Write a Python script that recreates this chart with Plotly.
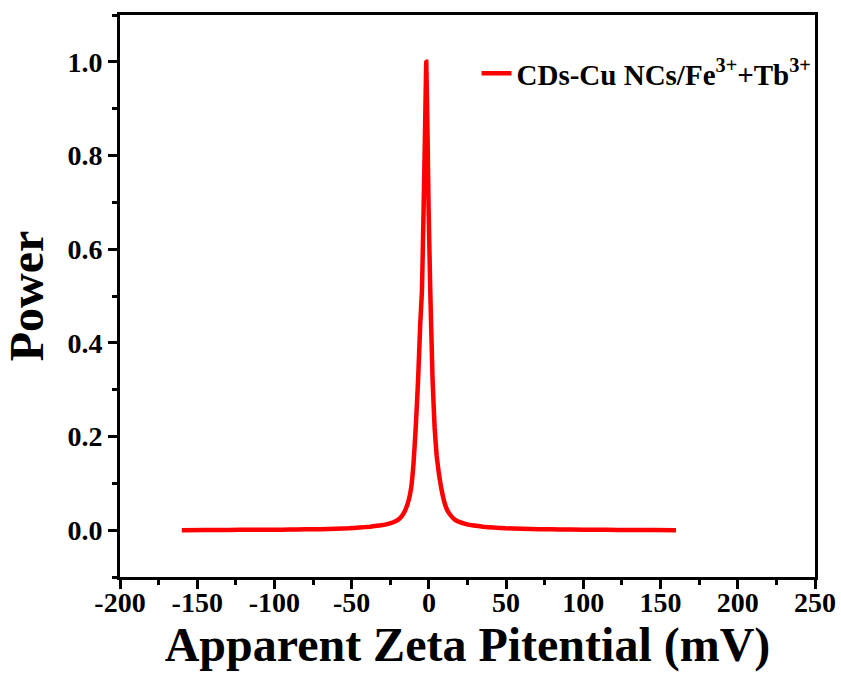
import plotly.graph_objects as go

# Apparent zeta potential (mV) and normalized power
zeta_mv = [-160, -145, -130, -115, -100, -90, -80, -70, -60, -52, -45, -38, -32, -27, -23,
           -20, -17.5, -15, -13, -11.5, -10, -8.5, -7, -5.6, -4.5, -3.4, -2.5, -1.7, -0.9,
           -0.2, 0.9, 2.4, 3.7, 5, 6.5, 8, 10, 12, 14.5, 17, 20, 24, 29, 35, 42, 50, 60,
           72, 85, 100, 115, 130, 145, 160]
power = [0.0, 0.0003, 0.0005, 0.0008, 0.001, 0.0013, 0.0017, 0.0022, 0.003, 0.004, 0.0055,
         0.0075, 0.010, 0.013, 0.017, 0.022, 0.030, 0.045, 0.065, 0.09, 0.14, 0.22, 0.32,
         0.44, 0.51, 0.69, 0.85, 1.0, 0.85, 0.69, 0.51, 0.32, 0.22, 0.16, 0.12, 0.09,
         0.06, 0.042, 0.03, 0.022, 0.017, 0.013, 0.010, 0.0075, 0.0055, 0.004, 0.003,
         0.002, 0.0015, 0.001, 0.0007, 0.0004, 0.0002, 0.0]
series_name = "CDs-Cu NCs/Fe<sup>3+</sup>+Tb<sup>3+</sup>"

x_ticks = [-200, -150, -100, -50, 0, 50, 100, 150, 200, 250]
y_ticks = [0.0, 0.2, 0.4, 0.6, 0.8, 1.0]

FONT = "Liberation Serif"

fig = go.Figure()
fig.add_trace(go.Scatter(
    x=zeta_mv, y=power, mode="lines", name=series_name,
    line=dict(color="#ff0000", width=4.5, shape="spline", smoothing=0.3),
))

axis_common = dict(
    showline=True, linecolor="black", linewidth=3, mirror=True,
    ticks="outside", ticklen=9, tickwidth=3, tickcolor="black",
    showgrid=False, zeroline=False,
    tickfont=dict(family=FONT, size=28, color="black", weight="bold"),
)

fig.update_xaxes(
    range=[-200, 250], tickvals=x_ticks, ticktext=[str(v) for v in x_ticks],
    minor=dict(dtick=25, ticks="outside", ticklen=5, tickwidth=3, tickcolor="black", tick0=-200),
    ticklabelstandoff=-11,
    title=dict(text="<b>Apparent Zeta Pitential (mV)</b>",
               font=dict(family=FONT, size=48, color="black"), standoff=0),
    **axis_common,
)
fig.update_yaxes(
    range=[-0.1, 1.1], tickvals=y_ticks, ticktext=[f"{v:.1f}" for v in y_ticks],
    minor=dict(dtick=0.1, ticks="outside", ticklen=5, tickwidth=3, tickcolor="black", tick0=0),
    title=dict(text="<b>Power</b>", font=dict(family=FONT, size=48, color="black"), standoff=12),
    **axis_common,
)

fig.update_layout(
    width=841, height=689,
    margin=dict(l=120, r=26, t=15, b=112, autoexpand=False),
    paper_bgcolor="white", plot_bgcolor="white",
    showlegend=True,
    legend=dict(x=0.513, y=0.896, xanchor="left", yanchor="middle",
                bgcolor="rgba(0,0,0,0)", borderwidth=0,
                font=dict(family=FONT, size=29, color="black", weight="bold")),
)

fig.write_html("out.html")
